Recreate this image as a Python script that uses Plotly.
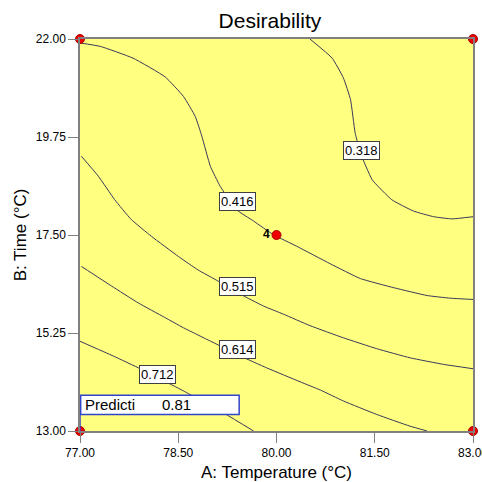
import plotly.graph_objects as go

# Contour lines: (Temperature, Time) points per level
levels = ["0.318", "0.416", "0.515", "0.614", "0.712"]

c318_x = [80.51, 80.85, 81.02, 81.13, 81.20, 81.28, 81.46, 81.76, 82.09, 82.40, 82.68, 83.00]
c318_y = [22.00, 21.56, 21.11, 20.61, 19.85, 19.39, 18.77, 18.31, 18.05, 17.92, 17.87, 17.92]

c416_x = [77.00, 77.31, 77.81, 78.30, 78.58, 78.76, 78.86, 78.99, 79.14, 79.39, 79.65, 79.95,
          80.31, 80.82, 81.28, 81.79, 82.30, 82.65, 83.00]
c416_y = [21.91, 21.83, 21.56, 21.13, 20.68, 20.22, 19.77, 19.08, 18.62, 18.08, 17.82, 17.51,
          17.24, 16.84, 16.50, 16.29, 16.11, 16.05, 16.02]

c515_x = [77.02, 77.28, 77.53, 77.78, 78.09, 78.50, 78.80, 79.11, 79.45, 79.80, 80.11, 80.51,
          81.02, 81.53, 82.04, 82.55, 83.00]
c515_y = [19.31, 18.85, 18.31, 17.86, 17.47, 17.01, 16.70, 16.44, 16.14, 15.87, 15.68, 15.42,
          15.14, 14.89, 14.68, 14.53, 14.43]

c614_x = [77.02, 77.48, 77.89, 78.29, 78.58, 79.09, 79.45, 79.85, 80.36, 80.67, 81.02, 81.53,
          82.04, 82.30]
c614_y = [16.78, 16.33, 15.94, 15.61, 15.37, 14.99, 14.72, 14.45, 14.13, 13.94, 13.69, 13.38,
          13.11, 13.00]

c712_x = [77.00, 77.51, 77.92, 78.22, 78.58, 79.22, 79.65]
c712_y = [15.06, 14.72, 14.43, 14.20, 13.92, 13.39, 13.00]

contour_x = [c318_x, c416_x, c515_x, c614_x, c712_x]
contour_y = [c318_y, c416_y, c515_y, c614_y, c712_y]

# label positions for each contour level
label_x = [81.29, 79.40, 79.40, 79.40, 78.19]
label_y = [19.45, 18.27, 16.32, 14.87, 14.30]

# design points
pts_x = [77, 83, 77, 83, 80]
pts_y = [22, 22, 13, 13, 17.5]

x_ticks = [77.0, 78.5, 80.0, 81.5, 83.0]
x_tick_text = ["77.00", "78.50", "80.00", "81.50", "83.00"]
y_ticks = [13.0, 15.25, 17.5, 19.75, 22.0]
y_tick_text = ["13.00", "15.25", "17.50", "19.75", "22.00"]

pred_label = "Predicti"
pred_value = "0.81"
center_count = "4"

fig = go.Figure()

for cx, cy in zip(contour_x, contour_y):
    fig.add_trace(go.Scatter(x=cx, y=cy, mode="lines",
                             line=dict(color="#3a3a5a", width=1, shape="spline", smoothing=0.4),
                             hoverinfo="skip", showlegend=False, cliponaxis=True))

# prediction flag line and box
fig.add_shape(type="line", x0=77, x1=77, y0=13, y1=13.38, line=dict(color="#3344cc", width=1.5))
fig.add_shape(type="rect", x0=77.01, x1=79.43, y0=13.38, y1=13.82,
              line=dict(color="#3344cc", width=1.5), fillcolor="white")

fig.add_trace(go.Scatter(x=pts_x, y=pts_y, mode="markers",
                         marker=dict(color="#ee0000", size=9, line=dict(color="#aa0000", width=1)),
                         hoverinfo="skip", showlegend=False, cliponaxis=False))

annotations = []
for lx, ly, t in zip(label_x, label_y, levels):
    annotations.append(dict(x=lx, y=ly, text=t, showarrow=False,
                            font=dict(family="Arial, Liberation Sans", size=13, color="black"),
                            bgcolor="white", bordercolor="#404040", borderwidth=1, borderpad=1))
annotations.append(dict(x=77.04, y=13.60, text=pred_label, showarrow=False, xanchor="left",
                        font=dict(family="Arial, Liberation Sans", size=15, color="black")))
annotations.append(dict(x=78.22, y=13.60, text=pred_value, showarrow=False, xanchor="left",
                        font=dict(family="Arial, Liberation Sans", size=15, color="black")))
annotations.append(dict(x=79.93, y=17.52, text="<b>" + center_count + "</b>", showarrow=False,
                        xanchor="right",
                        font=dict(family="Arial, Liberation Sans", size=12, color="black")))

tick_font = dict(family="Liberation Sans Narrow, Arial Narrow, Arial", size=12, color="black")
title_font = dict(family="Arial, Liberation Sans", size=17, color="black")

fig.update_layout(
    width=482, height=482,
    margin=dict(l=80, r=9, t=39, b=51, autoexpand=False),
    paper_bgcolor="white", plot_bgcolor="#ffff80",
    title=dict(text="Desirability", x=0.56, xanchor="center", y=0.958, yanchor="middle",
               font=dict(family="Arial, Liberation Sans", size=21, color="black")),
    annotations=annotations,
    showlegend=False,
    xaxis=dict(range=[77, 83], tickvals=x_ticks, ticktext=x_tick_text, ticks="outside",
               ticklen=10, tickcolor="#808080", showgrid=False, zeroline=False, automargin=False,
               ticklabeloverflow="allow",
               showline=True, linecolor="#808080", linewidth=1.5, mirror=True,
               tickfont=tick_font,
               title=dict(text="A: Temperature (°C)", standoff=14, font=title_font)),
    yaxis=dict(range=[13, 22], tickvals=y_ticks, ticktext=y_tick_text, ticks="outside",
               ticklen=10, tickcolor="#808080", showgrid=False, zeroline=False, automargin=False,
               ticklabeloverflow="allow",
               showline=True, linecolor="#808080", linewidth=1.5, mirror=True,
               tickfont=tick_font,
               title=dict(text="B: Time (°C)", standoff=5, font=title_font)),
)

fig.write_html("out.html", config={"displayModeBar": False},
               post_script="document.body.style.margin='0';document.body.style.overflow='hidden';")
